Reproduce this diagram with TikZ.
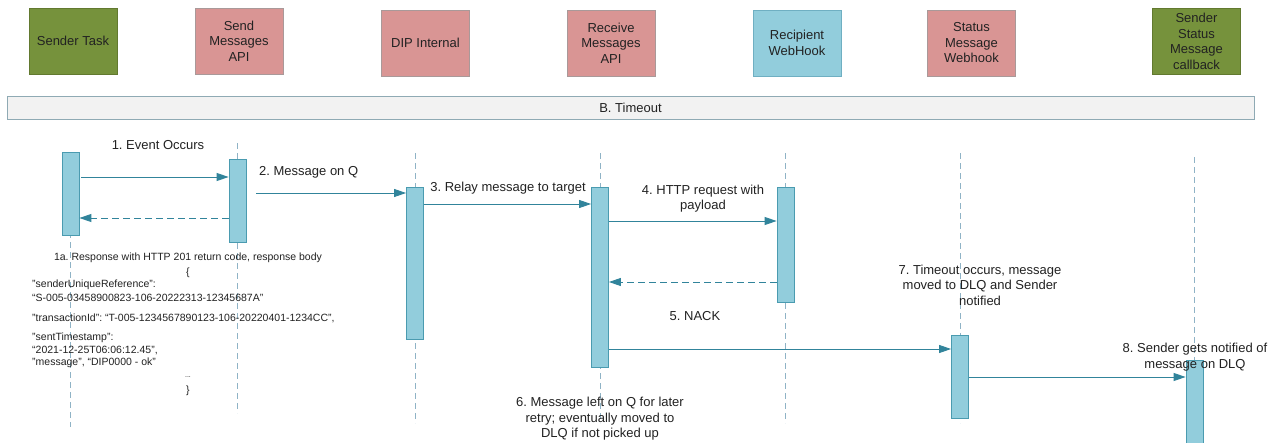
\documentclass[tikz,border=0pt]{standalone}
\usepackage{fontspec}
\setmainfont{Liberation Sans}
\usetikzlibrary{arrows.meta}
\frenchspacing
\definecolor{hgreen}{HTML}{76923C}
\definecolor{hgreenline}{HTML}{62792F}
\definecolor{hpink}{HTML}{D99594}
\definecolor{hpinkline}{HTML}{A99999}
\definecolor{hblue}{HTML}{92CDDC}
\definecolor{hblueline}{HTML}{6FAFC2}
\definecolor{barline}{HTML}{4A9BB0}
\definecolor{arrowc}{HTML}{31849B}
\definecolor{lifec}{HTML}{8FB3C6}
\definecolor{txt}{HTML}{222222}
\definecolor{tofill}{HTML}{F2F2F2}
\definecolor{toline}{HTML}{8FAAB4}
\newcommand{\mylbl}{\fontsize{13}{15.5}\selectfont}
\newcommand{\myjson}{\fontsize{10.5}{13}\selectfont}
\tikzset{
  head/.style={minimum width=88pt, minimum height=66pt, inner sep=0pt, align=center, font=\mylbl, line width=0.8pt, text=txt},
  greenhead/.style={head, fill=hgreen, draw=hgreenline},
  pinkhead/.style={head, fill=hpink, draw=hpinkline},
  bluehead/.style={head, fill=hblue, draw=hblueline},
  act/.style={fill=hblue, draw=barline, line width=0.8pt, minimum width=17pt, inner sep=0pt},
  life/.style={draw=lifec, line width=0.8pt, dash pattern=on 6pt off 4pt},
  msg/.style={draw=arrowc, line width=0.9pt, -{Triangle[length=12pt,width=8pt,fill=arrowc]}},
  ret/.style={msg, dash pattern=on 7pt off 4pt},
  lbl/.style={font=\mylbl, align=center, inner sep=0pt, text=txt},
  json/.style={font=\myjson, anchor=west, inner sep=0pt, text=txt}
}
\begin{document}
\begin{tikzpicture}[x=1pt,y=-1pt]
\useasboundingbox[fill=white] (0,0) rectangle (1277,442);

% headers
\node[greenhead] (h1) at (73,41) {Sender Task};
\node[pinkhead] (h2) at (239,41) {Send\\Messages\\API};
\node[pinkhead] (h3) at (425.5,43) {DIP Internal};
\node[pinkhead] (h4) at (611,43) {Receive\\Messages\\API};
\node[bluehead] (h5) at (797,43) {Recipient\\WebHook};
\node[pinkhead] (h6) at (971.5,43) {Status\\Message\\Webhook};
\node[greenhead] (h7) at (1196.5,41.5) {Sender\\Status\\Message\\callback};

% timeout bar
\node[fill=tofill, draw=toline, line width=0.8pt, minimum width=1247pt, minimum height=23pt, inner sep=0pt, font=\mylbl, text=txt] (tb) at (630.5,107.5) {B. Timeout};

% lifelines
\draw[life] (70.5,152) -- (70.5,427);
\draw[life] (237.5,143) -- (237.5,413);
\draw[life] (415,153) -- (415,423);
\draw[life] (600,153) -- (600,423);
\draw[life] (785.5,153) -- (785.5,423);
\draw[life] (960,153) -- (960,423);
\draw[life] (1194.5,157) -- (1194.5,360);

% activation bars
\node[act, minimum height=83pt] (b1) at (70.5,193.5) {};
\node[act, minimum height=83pt] (b2) at (237.5,200.5) {};
\node[act, minimum height=152pt] (b3) at (415,263) {};
\node[act, minimum height=180pt] (b4) at (600,277) {};
\node[act, minimum height=115pt] (b5) at (785.5,244.5) {};
\node[act, minimum height=83pt] (b6) at (960,376.5) {};
\node[act, minimum height=90pt] (b7) at (1194.5,405) {};

% messages
\coordinate (m1) at (81,177);
\draw[msg] (m1) -- (b2.west |- m1);
\coordinate (r1) at (229,218);
\draw[ret] (b2.west |- r1) -- (b1.east |- r1);
\coordinate (m2) at (256,193);
\draw[msg] (m2) -- (b3.west |- m2);
\coordinate (m3) at (424,204);
\draw[msg] (b3.east |- m3) -- (b4.west |- m3);
\coordinate (m4) at (609,221);
\draw[msg] (b4.east |- m4) -- (b5.west |- m4);
\coordinate (r5) at (777,282);
\draw[ret] (b5.west |- r5) -- (b4.east |- r5);
\coordinate (m6) at (609,349);
\draw[msg] (b4.east |- m6) -- (b6.west |- m6);
\coordinate (m7) at (967,377);
\draw[msg] (b6.east |- m7) -- (b7.west |- m7);

% labels
\node[lbl] (l1) at (158,145) {1. Event Occurs};
\node[lbl, anchor=west] (l2) at (259,172) {2. Message on Q};
\node[lbl] (l3) at (508,188) {3. Relay message to target};
\node[lbl] (l4) at (703,198.5) {4. HTTP request with\\payload};
\node[lbl] (l5) at (695,316) {5. NACK};
\node[lbl] (l6) at (600,419) {6. Message left on Q for later\\retry; eventually moved to\\DLQ if not picked up};
\node[lbl] (l7) at (980,285) {7. Timeout occurs, message\\moved to DLQ and Sender\\notified};
\node[lbl] (l8) at (1195,357) {8. Sender gets notified of\\message on DLQ};

% response body
\node[font=\myjson, inner sep=0pt, text=txt] (j0) at (188,258) {1a. Response with HTTP 201 return code, response body};
\node[font=\myjson, inner sep=0pt, text=txt] (j1) at (188,273) {\{};
\node[json] (j2) at (32,285) {"senderUniqueReference":};
\node[json] (j3) at (32,298) {“S-005-03458900823-106-20222313-12345687A”};
\node[json] (j4) at (32,318) {"transactionId": “T-005-1234567890123-106-20220401-1234CC”,};
\node[json] (j5) at (32,338) {"sentTimestamp":};
\node[json] (j6) at (32,351) {“2021-12-25T06:06:12.45”,};
\node[json] (j7) at (32,363) {"message", “DIP0000 - ok”};
\node[font=\fontsize{7}{8}\selectfont, inner sep=0pt, text=txt] (j8) at (188,377) {...};
\node[font=\myjson, inner sep=0pt, text=txt] (j9) at (188,391) {\}};
\end{tikzpicture}
\end{document}
